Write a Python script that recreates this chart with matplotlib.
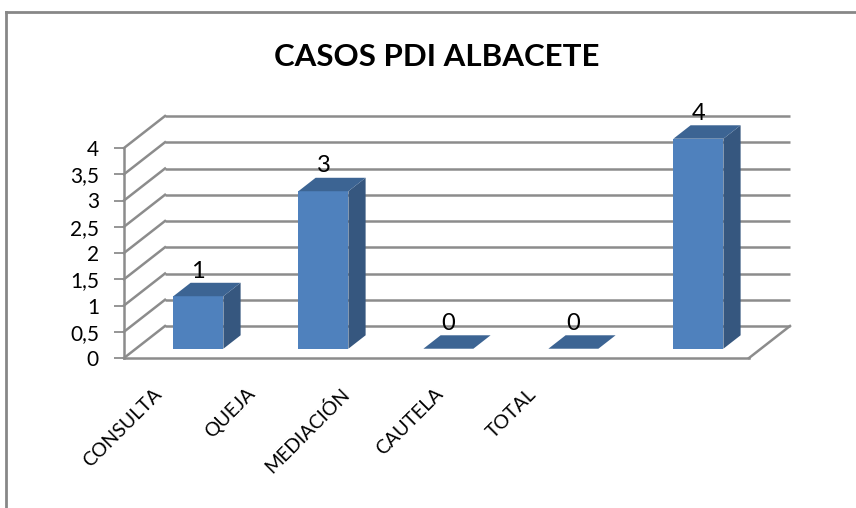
import matplotlib
matplotlib.use("Agg")
import matplotlib.pyplot as plt
from matplotlib.patches import Polygon
from matplotlib.lines import Line2D

# ---- data ----
categories = ["CONSULTA", "QUEJA", "MEDIACIÓN", "CAUTELA", "TOTAL"]
values = [1, 3, 0, 0, 4]
yticks = [0, 0.5, 1, 1.5, 2, 2.5, 3, 3.5, 4]
yticklabels = ["0", "0,5", "1", "1,5", "2", "2,5", "3", "3,5", "4"]
title = "CASOS PDI ALBACETE"

# ---- style ----
FONT = ["Lato", "DejaVu Sans"]
plt.rcParams["font.family"] = FONT
W, H, DPI = 856, 508, 100
GRID = "#8c8c8c"
FRONT = "#4F81BD"
SIDE = "#36577F"
TOP = "#3C6493"
DEPTH_PX = (41, 32)       # depth of the 3D floor in pixels
F1, F2 = 0.29, 0.71       # bar front/back depth fractions
BAR_W = 0.4

fig = plt.figure(figsize=(W / DPI, H / DPI), dpi=DPI)
ax_l, ax_r, ax_b, ax_t = 124, 749, 358, 148
ax = fig.add_axes([ax_l / W, (H - ax_b) / H, (ax_r - ax_l) / W, (ax_b - ax_t) / H])
n = len(categories)
ax.set_xlim(0, n)
ax.set_ylim(0, 4)
ax.patch.set_visible(False)

# depth vector in data units
px_x = (ax_r - ax_l) / n
px_y = (ax_b - ax_t) / 4
DX = DEPTH_PX[0] / px_x
DY = DEPTH_PX[1] / px_y

# back wall gridlines + side wall diagonals
for t in yticks:
    ax.plot([DX, n + DX], [t + DY, t + DY], color=GRID, lw=1.8, clip_on=False, zorder=1,
            solid_capstyle="butt")
    ax.plot([0, DX], [t, t + DY], color=GRID, lw=1.8, clip_on=False, zorder=1)
# floor right edge
ax.plot([n, n + DX], [0, DY], color=GRID, lw=1.8, clip_on=False, zorder=1)

# spines
for s in ["top", "right"]:
    ax.spines[s].set_visible(False)
for s in ["left", "bottom"]:
    ax.spines[s].set_color(GRID)
    ax.spines[s].set_linewidth(1.8)
    ax.spines[s].set_zorder(2)

ax.set_yticks(yticks)
ax.set_yticklabels(yticklabels, fontsize=15)
ax.tick_params(axis="y", length=7, width=1.3, color=GRID, pad=11)
ax.set_xticks([])

# bars
for i, v in enumerate(values):
    xc = i + 0.5 + F1 * DX
    b = F1 * DY
    ddx = (F2 - F1) * DX
    ddy = (F2 - F1) * DY
    xl, xr = xc - BAR_W / 2, xc + BAR_W / 2
    ax.bar(xc, v, width=BAR_W, bottom=b, color=FRONT, zorder=5, clip_on=False)
    side = Polygon([(xr, b), (xr, b + v), (xr + ddx, b + v + ddy), (xr + ddx, b + ddy)],
                   closed=True, facecolor=SIDE, edgecolor="none", zorder=5, clip_on=False)
    top = Polygon([(xl, b + v), (xr, b + v), (xr + ddx, b + v + ddy), (xl + ddx, b + v + ddy)],
                  closed=True, facecolor=TOP, edgecolor="none", zorder=5, clip_on=False)
    ax.add_patch(side)
    ax.add_patch(top)
    ax.annotate(str(v), xy=(xc, v), xytext=(0, 28), textcoords="offset pixels",
                ha="center", va="baseline", fontsize=17, zorder=6)

# category labels (rotated)
for i, c in enumerate(categories):
    ax.text(0.046 + 0.15 * i, -27 / (ax_b - ax_t), c, transform=ax.transAxes,
            rotation=45, rotation_mode="anchor", ha="right", va="top", fontsize=14)

# title
fig.text(436.5 / W, (H - 57) / H, title, ha="center", va="center",
         fontsize=22.5, fontweight="bold")

# chart border (only top and left visible)
fig.add_artist(Line2D([6 / W, 6 / W], [0, (H - 12) / H], color="#878787", lw=2,
                      transform=fig.transFigure))
fig.add_artist(Line2D([6 / W, 1], [(H - 12) / H, (H - 12) / H], color="#878787", lw=2,
                      transform=fig.transFigure))

fig.savefig("out.png", dpi=DPI)
